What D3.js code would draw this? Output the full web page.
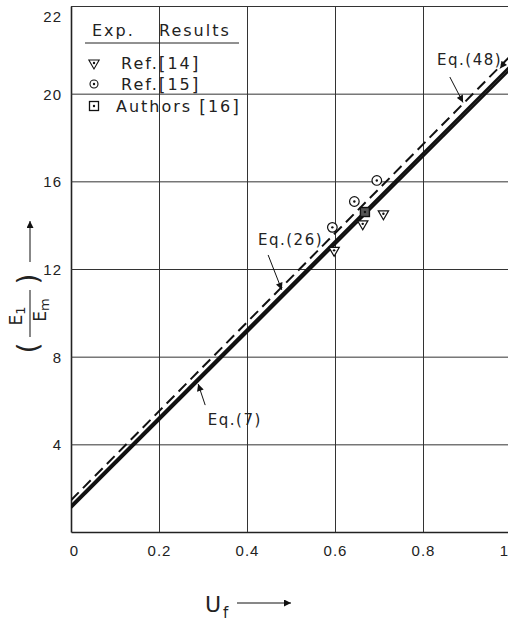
<!DOCTYPE html>
<html lang="en">
<head>
<meta charset="UTF-8">
<title>E1/Em vs Uf</title>
<script src="https://d3js.org/d3.v7.min.js"></script>
<style>
  body { margin: 0; background: #fff; }
  svg { display: block; font-family: 'DejaVu Sans', sans-serif; }
  .grid line { stroke: #333; stroke-width: 1; }
  .grid text { fill: #222; font-size: 15px; letter-spacing: 1px; }
  .lbl { fill: #222; font-size: 15px; letter-spacing: 1.5px; }
  .leg { fill: #222; font-size: 16px; letter-spacing: 2px; }
</style>
</head>
<body>
<script>
// axis ticks and labels
const xTicks = [0, 0.2, 0.4, 0.6, 0.8, 1];
const xTickLabels = ["0", "0.2", "0.4", "0.6", "0.8", "1"];
const yTicks = [4, 8, 12, 16, 20, 24];
const yTickLabels = ["4", "8", "12", "16", "20", "22"];

// theory lines (end points)
const uf = [0, 1];
const eq7 = [1.2, 21.3];
const eq48 = [1.1, 21.15];
const eq26 = [1.45, 21.75];

// experimental results
const ref14 = [[0.598, 12.85], [0.663, 14.06], [0.71, 14.52]];
const ref15 = [[0.594, 13.9], [0.644, 15.08], [0.695, 16.04]];
const authors16 = [[0.668, 14.6]];

const width = 508, height = 624;
const plotL = 71, plotR = 511, plotT = 6, plotB = 532;

const x = d3.scaleLinear().domain([0, 1]).range([plotL, plotR]);
const y = d3.scaleLinear().domain([0, 24]).range([plotB, plotT]);

const svg = d3.select("body").append("svg")
    .attr("width", width)
    .attr("height", height);

const defs = svg.append("defs");
defs.append("clipPath").attr("id", "plot")
  .append("rect").attr("x", plotL).attr("y", plotT)
    .attr("width", plotR - plotL).attr("height", plotB - plotT);

const arrow = defs.append("marker")
    .attr("id", "head")
    .attr("viewBox", "0 0 10 10")
    .attr("refX", 10).attr("refY", 5)
    .attr("markerWidth", 8).attr("markerHeight", 7)
    .attr("markerUnits", "userSpaceOnUse")
    .attr("orient", "auto");
arrow.append("path").attr("d", "M0,0L10,5L0,10Z").attr("fill", "#111");

// grid via axes
const gx = svg.append("g").attr("class", "grid")
    .attr("transform", `translate(0,${plotB})`)
    .call(d3.axisBottom(x).tickValues(xTicks)
        .tickFormat((d, i) => xTickLabels[i])
        .tickSize(-(plotB - plotT)).tickSizeOuter(0).tickPadding(13));
gx.select(".domain").attr("stroke", "#222").attr("stroke-width", 1.6);
gx.selectAll(".tick text").attr("dx", (d, i) => i === 0 ? 3 : (i === 5 ? -7 : 0));

const gy = svg.append("g").attr("class", "grid")
    .attr("transform", `translate(${plotL},0)`)
    .call(d3.axisLeft(y).tickValues(yTicks)
        .tickFormat((d, i) => yTickLabels[i])
        .tickSize(-(plotR - plotL)).tickSizeOuter(0).tickPadding(9));
gy.select(".domain").attr("stroke", "#222").attr("stroke-width", 1.6);
gy.selectAll(".tick text").attr("dy", (d, i) => i === 5 ? "1.05em" : "0.36em");
gy.selectAll(".tick line").attr("stroke-width", (d, i) => i === 5 ? 1.3 : 1);

// theory lines
const line = d3.line().x(d => x(d[0])).y(d => y(d[1]));
const plot = svg.append("g").attr("clip-path", "url(#plot)");
plot.append("path").datum(d3.zip(uf, eq26)).attr("d", line)
    .attr("fill", "none").attr("stroke", "#111").attr("stroke-width", 2)
    .attr("stroke-dasharray", "11,6");
plot.append("path").datum(d3.zip(uf, eq48)).attr("d", line)
    .attr("fill", "none").attr("stroke", "#111").attr("stroke-width", 2.5);
plot.append("path").datum(d3.zip(uf, eq7)).attr("d", line)
    .attr("fill", "none").attr("stroke", "#111").attr("stroke-width", 2.5);

// markers
const tri = d3.symbol().type(d3.symbolTriangle).size(46)();
function dotted(g) {
  g.append("circle").attr("r", 1.2).attr("fill", "#111");
}
const m14 = svg.append("g").selectAll("g").data(ref14).join("g")
    .attr("transform", d => `translate(${x(d[0])},${y(d[1])})`);
m14.append("path").attr("d", tri).attr("transform", "rotate(180)")
    .attr("fill", "#fff").attr("stroke", "#111").attr("stroke-width", 1.2);
m14.call(dotted);

const m15 = svg.append("g").selectAll("g").data(ref15).join("g")
    .attr("transform", d => `translate(${x(d[0])},${y(d[1])})`);
m15.append("circle").attr("r", 4.8)
    .attr("fill", "#fff").attr("stroke", "#111").attr("stroke-width", 1.2);
m15.call(dotted);

const m16 = svg.append("g").selectAll("g").data(authors16).join("g")
    .attr("transform", d => `translate(${x(d[0])},${y(d[1])})`);
m16.append("rect").attr("x", -4.5).attr("y", -4.5).attr("width", 9).attr("height", 9)
    .attr("fill", "#555").attr("stroke", "#111").attr("stroke-width", 1.4);
m16.call(dotted);

// equation labels with arrows
const notes = [
  { text: "Eq.(26)", at: [0.425, 13.09], from: [0.448, 12.64], to: [0.479, 11.05] },
  { text: "Eq.(48)", at: [0.832, 21.31], from: [0.861, 20.76], to: [0.891, 19.6] },
  { text: "Eq.(7)", at: [0.311, 4.88], from: [0.305, 5.79], to: [0.289, 6.75] }
];
notes.forEach(n => {
  svg.append("text").attr("class", "lbl")
      .attr("x", x(n.at[0])).attr("y", y(n.at[1]))
      .attr("letter-spacing", n.text === "Eq.(7)" ? 3 : 0.5)
      .text(n.text);
  svg.append("line")
      .attr("x1", x(n.from[0])).attr("y1", y(n.from[1]))
      .attr("x2", x(n.to[0])).attr("y2", y(n.to[1]))
      .attr("stroke", "#111").attr("stroke-width", 1)
      .attr("marker-end", "url(#head)");
});
svg.append("line")
    .attr("x1", x(1)).attr("y1", y(21.8))
    .attr("x2", x(0.975)).attr("y2", y(21.15))
    .attr("stroke", "#111").attr("stroke-width", 1)
    .attr("marker-end", "url(#head)");

// legend
const leg = svg.append("g");
leg.append("text").attr("class", "leg").attr("x", 92).attr("y", 36).text("Exp.");
leg.append("text").attr("class", "leg").attr("x", 159).attr("y", 36).text("Results");
leg.append("line").attr("x1", 85).attr("x2", 239).attr("y1", 43).attr("y2", 43)
    .attr("stroke", "#222").attr("stroke-width", 1);

const legRows = [
  { name: "Ref.", ref: "14", y: 69 },
  { name: "Ref.", ref: "15", y: 90 },
  { name: "Authors ", ref: "16", y: 112 }
];
legRows.forEach((r, i) => {
  const t = leg.append("text").attr("class", "leg").attr("x", i === 2 ? 116 : 121).attr("y", r.y);
  t.append("tspan").text(r.name);
  t.append("tspan").attr("font-size", 17).attr("dy", 1).text("[");
  t.append("tspan").attr("dy", -1).text(r.ref);
  t.append("tspan").attr("font-size", 17).attr("dy", 1).text("]");
  const g = leg.append("g").attr("transform", `translate(94,${r.y - 6})`);
  if (i === 0) {
    g.append("path").attr("d", tri).attr("transform", "rotate(180)")
        .attr("fill", "none").attr("stroke", "#111").attr("stroke-width", 1.1);
  } else if (i === 1) {
    g.append("circle").attr("r", 4).attr("fill", "none")
        .attr("stroke", "#111").attr("stroke-width", 1.1);
  } else {
    g.append("rect").attr("x", -4.5).attr("y", -4.5).attr("width", 9).attr("height", 9)
        .attr("fill", "none").attr("stroke", "#111").attr("stroke-width", 1.3);
  }
  g.call(dotted);
});

// x axis title
const xt = svg.append("text").attr("x", 205).attr("y", 612)
    .attr("fill", "#222").attr("font-size", 22);
xt.append("tspan").text("U");
xt.append("tspan").attr("font-size", 15).attr("dy", 6).attr("dx", 2).text("f");
svg.append("line").attr("x1", 237).attr("x2", 291).attr("y1", 603).attr("y2", 603)
    .attr("stroke", "#111").attr("stroke-width", 1).attr("marker-end", "url(#head)");

// y axis title, rotated
const yt = svg.append("g").attr("transform", "translate(30,313) rotate(-90)")
    .attr("fill", "#222");
yt.append("text").attr("x", -35).attr("y", 8).attr("font-size", 28).attr("text-anchor", "middle").text("(");
yt.append("text").attr("x", 34).attr("y", 8).attr("font-size", 28).attr("text-anchor", "middle").text(")");
const num = yt.append("text").attr("x", -3).attr("y", -8).attr("font-size", 17).attr("text-anchor", "middle");
num.append("tspan").text("E");
num.append("tspan").attr("font-size", 13).attr("dy", 3).text("1");
const den = yt.append("text").attr("x", 3).attr("y", 16).attr("font-size", 17).attr("text-anchor", "middle");
den.append("tspan").text("E");
den.append("tspan").attr("font-size", 13).attr("dy", 3).text("m");
yt.append("line").attr("x1", -24).attr("x2", 23).attr("y1", 0).attr("y2", 0)
    .attr("stroke", "#111").attr("stroke-width", 1);
yt.append("line").attr("x1", 51).attr("x2", 92).attr("y1", 0).attr("y2", 0)
    .attr("stroke", "#111").attr("stroke-width", 1).attr("marker-end", "url(#head)");
</script>
</body>
</html>
